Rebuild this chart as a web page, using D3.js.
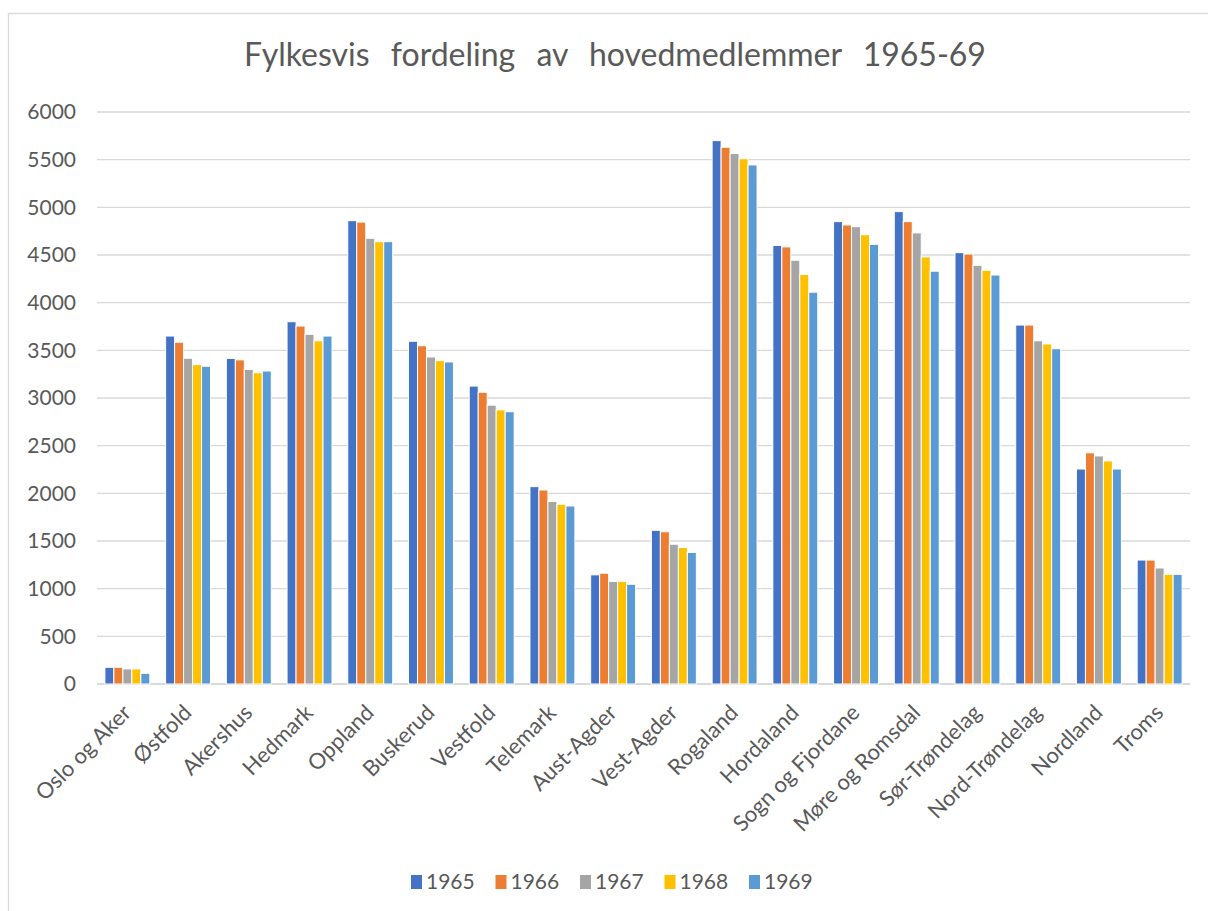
<!DOCTYPE html>
<html>
<head>
<meta charset="utf-8">
<script src="https://cdn.jsdelivr.net/npm/d3@7"></script>
<style>
  body { margin: 0; background: #fff; }
  text { font-family: Lato, "Noto Sans", sans-serif; fill: #595959; }
</style>
</head>
<body>
<script>
var width = 1208,
  height = 911;

// fylker
var categories = ["Oslo og Aker", "Østfold", "Akershus", "Hedmark", "Oppland", "Buskerud",
  "Vestfold", "Telemark", "Aust-Agder", "Vest-Agder", "Rogaland", "Hordaland",
  "Sogn og Fjordane", "Møre og Romsdal", "Sør-Trøndelag", "Nord-Trøndelag", "Nordland", "Troms"];

var years = ["1965", "1966", "1967", "1968", "1969"];

var v1965 = [175, 3650, 3415, 3800, 4860, 3595, 3125, 2070, 1145, 1612, 5700, 4600, 4850, 4955, 4525, 3765, 2255, 1300];
var v1966 = [175, 3585, 3400, 3755, 4845, 3548, 3060, 2035, 1162, 1597, 5630, 4585, 4815, 4850, 4510, 3765, 2425, 1300];
var v1967 = [158, 3417, 3300, 3668, 4675, 3430, 2925, 1915, 1076, 1466, 5565, 4445, 4797, 4732, 4392, 3600, 2392, 1217];
var v1968 = [158, 3350, 3265, 3600, 4640, 3392, 2875, 1885, 1076, 1432, 5510, 4295, 4713, 4480, 4340, 3567, 2340, 1150];
var v1969 = [112, 3333, 3283, 3650, 4640, 3378, 2856, 1867, 1046, 1380, 5445, 4110, 4612, 4330, 4290, 3517, 2255, 1150];

var yTicks = [0, 500, 1000, 1500, 2000, 2500, 3000, 3500, 4000, 4500, 5000, 5500, 6000];

var colors = ["#4472C4", "#ED7D31", "#A5A5A5", "#FFC000", "#5B9BD5"];

var series = [v1965, v1966, v1967, v1968, v1969];

var svg = d3.select("body").append("svg")
  .attr("width", width)
  .attr("height", height);

// ramme rundt diagrammet
svg.append("rect")
  .attr("x", 8.5).attr("y", 13.5)
  .attr("width", 1220).attr("height", 920)
  .attr("fill", "none")
  .attr("stroke", "#D9D9D9")
  .attr("stroke-width", 1.3);

var plotLeft = 97, plotRight = 1190, plotTop = 112, plotBottom = 684;

var x = d3.scaleBand()
  .domain(categories)
  .range([plotLeft, plotRight])
  .paddingInner(0.26)
  .paddingOuter(0.13);

var xs = d3.scaleBand()
  .domain(years)
  .range([0, x.bandwidth()]);

var y = d3.scaleLinear()
  .domain([0, 6000])
  .range([plotBottom, plotTop]);

// rutenett
svg.append("g")
  .selectAll("line")
  .data(yTicks)
  .enter()
  .append("line")
  .attr("x1", plotLeft).attr("x2", plotRight)
  .attr("y1", d => y(d)).attr("y2", d => y(d))
  .attr("stroke", "#D9D9D9")
  .attr("stroke-width", d => d === 0 ? 1.8 : 1.3);

var yAxis = svg.append("g")
  .attr("transform", "translate(76,0)")
  .call(d3.axisLeft(y).tickValues(yTicks).tickFormat(d3.format("d")).tickSize(0).tickPadding(0));
yAxis.select(".domain").remove();
yAxis.selectAll("text")
  .style("font-size", "21px")
  .attr("fill", "#595959");

// søyler
var groups = svg.append("g")
  .selectAll("g")
  .data(categories)
  .enter()
  .append("g")
  .attr("transform", d => "translate(" + x(d) + ",0)");

groups.selectAll("rect")
  .data((c, i) => years.map((yr, j) => ({ year: yr, value: series[j][i], color: colors[j] })))
  .enter()
  .append("rect")
  .attr("x", d => xs(d.year))
  .attr("width", xs.bandwidth())
  .attr("y", d => y(d.value))
  .attr("height", d => y(0) - y(d.value))
  .attr("fill", d => d.color)
  .attr("stroke", "#fff")
  .attr("stroke-width", 1);

// kategorietiketter
var xAxis = svg.append("g")
  .attr("transform", "translate(0," + plotBottom + ")")
  .call(d3.axisBottom(x).tickSize(0).tickPadding(0));
xAxis.select(".domain").remove();
xAxis.selectAll("text")
  .style("font-size", "22px")
  .attr("text-anchor", "end")
  .attr("dy", 0)
  .attr("transform", "translate(5,30) rotate(-45)");

// tittel
svg.append("text")
  .attr("x", 615)
  .attr("y", 66)
  .attr("text-anchor", "middle")
  .style("font-size", "32px")
  .style("word-spacing", "13px")
  .text("Fylkesvis fordeling av hovedmedlemmer 1965-69");

// forklaring
var legend = svg.append("g")
  .selectAll("g")
  .data(years)
  .enter()
  .append("g")
  .attr("transform", (d, i) => "translate(" + (411 + i * 84.5) + ",875)");

legend.append("rect")
  .attr("width", 11).attr("height", 14)
  .attr("fill", (d, i) => colors[i]);

legend.append("text")
  .attr("x", 15)
  .attr("y", 14)
  .style("font-size", "21px")
  .text(d => d);
</script>
</body>
</html>
